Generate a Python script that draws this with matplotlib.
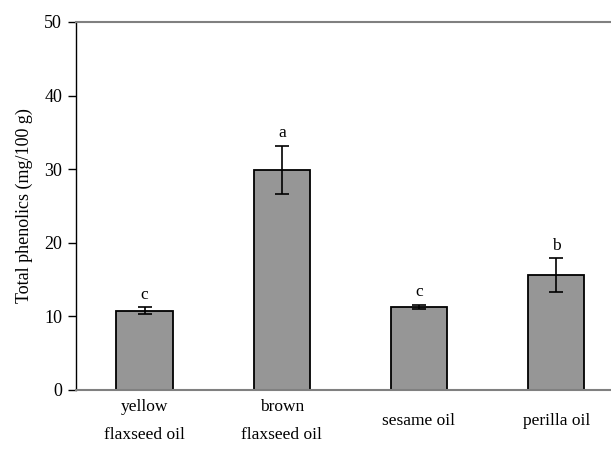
import numpy as np
import matplotlib
matplotlib.use("Agg")
import matplotlib.pyplot as plt

# dados
categorias = ["yellow\nflaxseed oil", "brown\nflaxseed oil", "sesame oil", "perilla oil"]
fenolicos = [10.8, 29.9, 11.3, 15.6]
erros = [0.5, 3.3, 0.3, 2.3]
letras = ["c", "a", "c", "b"]

plt.rcParams["font.family"] = "Liberation Serif"

fig = plt.figure(figsize=(6.11, 4.5), dpi=100)
ax = fig.add_axes([76 / 611, 1 - 390 / 450, 1 - 76 / 611, (390 - 22) / 450])

x = np.arange(len(categorias))
ax.bar(x, fenolicos, width=0.41, color="#969696", edgecolor="black", linewidth=1.3,
       yerr=erros, capsize=5, error_kw=dict(elinewidth=1.2, capthick=1.2, ecolor="black"))

for xi, v, e, l in zip(x, fenolicos, erros, letras):
    ax.annotate(l, (xi, v + e), xytext=(0, 3), textcoords="offset points",
                ha="center", va="bottom", fontsize=12.5)

ax.set_xlim(-0.5, 3.4)
ax.set_ylim(0, 50)
ax.set_yticks(np.arange(0, 51, 10))
ax.tick_params(axis="y", direction="out", length=6, width=1, labelsize=13, pad=4)
ax.set_xticks(x)
ax.set_xticklabels(categorias, fontsize=12.5, linespacing=2.0, va="center")
ax.tick_params(axis="x", length=0, pad=22)

ax.set_ylabel("Total phenolics (mg/100 g)", fontsize=13, labelpad=8)

ax.spines["right"].set_visible(False)
ax.spines["top"].set_color("#808080")
ax.spines["top"].set_linewidth(1.5)
ax.spines["bottom"].set_color("#808080")
ax.spines["bottom"].set_linewidth(1.5)
ax.spines["left"].set_linewidth(1)

fig.savefig("out.png", dpi=100)
